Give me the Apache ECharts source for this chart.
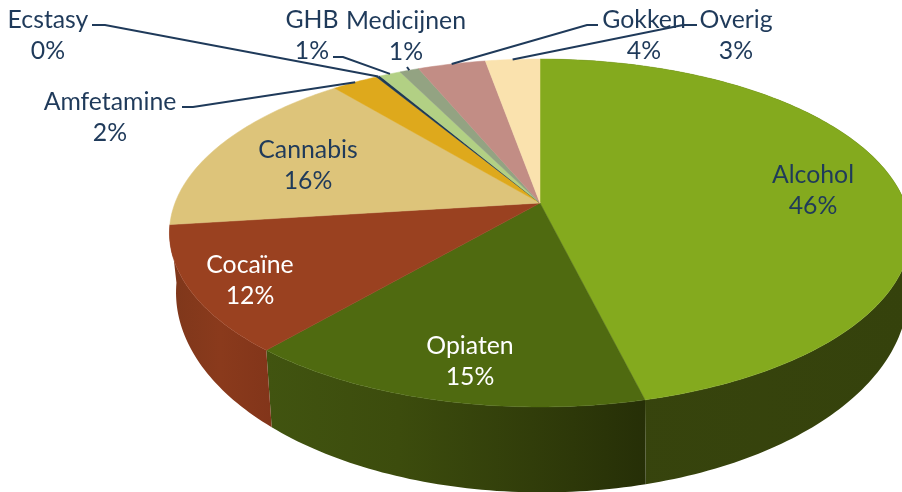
<!DOCTYPE html>
<html>
<head>
<meta charset="utf-8">
<style>html,body{margin:0;padding:0;background:#fff}#c{width:902px;height:492px}</style>
<script src="https://cdn.jsdelivr.net/npm/echarts@6/dist/echarts.min.js"></script>
</head>
<body>
<div id="c"></div>
<script>
// Clockwise from 12 o'clock
var categories = ['Alcohol','Opiaten','Cocaïne','Cannabis','Amfetamine','Ecstasy','GHB','Medicijnen','Gokken','Overig'];
var shares = [46.15, 15.15, 11.7, 16, 2.4, 0.2, 1.1, 1.0, 3.5, 2.8];
var topColors = ['#84AA1E','#4F6A10','#9A4120','#DDC47A','#DEA91C','#1F3A55','#B2D084','#93A382','#C28D85','#FAE2AE'];

var TEXT = '#1F3A5A';
var total = shares.reduce(function(a,b){return a+b;},0);
var cum = [0];
shares.forEach(function(v,i){cum.push(cum[i]+v);});

// Perspective projection of the disc's top and bottom rims
var K = 0.1724;
var topRim = {cx:540, cy:203, a:365, b:168.8};
var botRim = {cx:542, cy:258, a:360.5, b:194};
function rim(r, deg){
  var t = deg*Math.PI/180, u = Math.sin(t), v = -Math.cos(t), w = 1-K*v;
  return [r.cx + r.a*u/w, r.cy + r.b*v/w];
}
function toDeg(c){return c/total*360;}
function arc(r, d0, d1){
  var n = Math.max(2, Math.ceil(Math.abs(d1-d0))), pts = [];
  for(var i=0;i<=n;i++) pts.push(rim(r, d0+(d1-d0)*i/n));
  return pts;
}

// Wall shading, left to right; only the front slices show a wall
var wallStops = {
  0:[[0,'#40521A'],[0.1,'#3A4810'],[0.2,'#37440D'],[1,'#35420C']],
  1:[[0,'#415410'],[0.35,'#3C4C0D'],[0.7,'#313D0A'],[1,'#262F07']],
  2:[[0,'#7E371B'],[0.5,'#8A3A1C'],[1,'#82351A']]
};
function wallFill(i, pts){
  var stops = wallStops[i];
  var xs = pts.map(function(p){return p[0];});
  var x0 = Math.min.apply(null,xs), x1 = Math.max.apply(null,xs);
  return new echarts.graphic.LinearGradient(x0,0,x1,0,stops.map(function(s){return {offset:s[0],color:s[1]};}),true);
}

// Label placement and leader starts
var labelAt = {
  'Alcohol':[813,175,TEXT],'Opiaten':[470,346,'#FFFFFF'],'Cocaïne':[250,265,'#FFFFFF'],'Cannabis':[308,150,TEXT],
  'Amfetamine':[110,102,TEXT],'Ecstasy':[48,20,TEXT],'GHB':[312,20,TEXT],'Medicijnen':[406,21,TEXT],
  'Gokken':[644,20,TEXT],'Overig':[736,20,TEXT]
};
var leaderFrom = {
  'Amfetamine':[[182,107],[193,107]],'Ecstasy':[[92,25],[105,25]],'GHB':[[333,57],[343,57]],
  'Medicijnen':[[407,67]],'Gokken':[[598,25],[587,25]],'Overig':[[697,25],[683,25]]
};

function wall(params, api){
  var i = params.dataIndex;
  if(!wallStops[i]) return null;
  var d0 = toDeg(cum[i]), d1 = toDeg(cum[i+1]);
  var pts = arc(topRim,d0,d1).concat(arc(botRim,d1,d0));
  return {type:'polygon',shape:{points:pts},style:{fill:wallFill(i,pts),stroke:null}};
}
function slice(params, api){
  var i = params.dataIndex, d0 = toDeg(cum[i]), d1 = toDeg(cum[i+1]);
  var pts = [[topRim.cx,topRim.cy]].concat(arc(topRim,d0,d1));
  return {type:'polygon',shape:{points:pts},style:{fill:topColors[i],stroke:topColors[i],lineWidth:0.5}};
}
function leader(params, api){
  var i = params.dataIndex, from = leaderFrom[categories[i]];
  if(!from) return null;
  var end = rim(topRim, toDeg((cum[i]+cum[i+1])/2));
  return {type:'polyline',shape:{points:from.concat([end])},style:{fill:null,stroke:TEXT,lineWidth:2}};
}
function label(params, api){
  var i = params.dataIndex, at = labelAt[categories[i]];
  var font = '24.8px Lato, Carlito, sans-serif';
  return {type:'group',children:[
    {type:'text',style:{text:categories[i],x:at[0],y:at[1],fill:at[2],font:font,align:'center',verticalAlign:'middle'}},
    {type:'text',style:{text:Math.round(api.value(0))+'%',x:at[0],y:at[1]+31.5,fill:at[2],font:font,align:'center',verticalAlign:'middle'}}
  ]};
}
function series(fn, z){
  return {type:'custom',coordinateSystem:'none',renderItem:fn,data:shares.map(function(v){return [v];}),silent:true,animation:false,z:z,clip:false};
}
var chart = echarts.init(document.getElementById('c'),null,{renderer:'canvas'});
chart.setOption({
  animation:false,
  backgroundColor:'#fff',
  series:[series(wall,1),series(slice,2),series(leader,3),series(label,4)]
});
</script>
</body>
</html>
